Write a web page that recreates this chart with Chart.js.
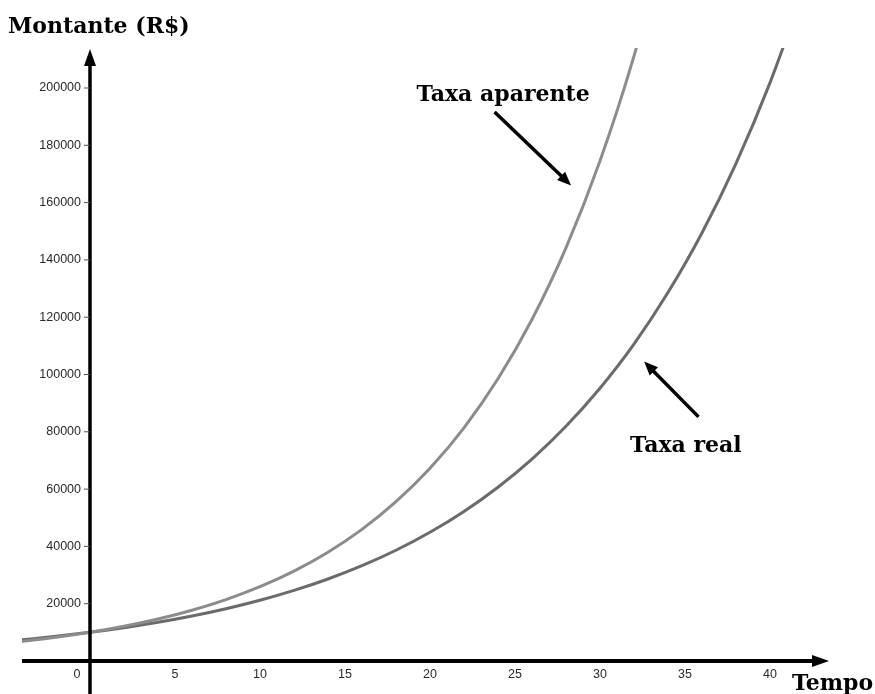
<!DOCTYPE html>
<html>
<head>
<meta charset="utf-8">
<script src="https://cdn.jsdelivr.net/npm/chart.js@4.4.0/dist/chart.umd.min.js"></script>
<style>
  body { margin: 0; background: #fff; }
  #wrap { width: 875px; height: 694px; }
</style>
</head>
<body>
<div id="wrap"><canvas id="chart" width="875" height="694"></canvas></div>
<script>
// tempo (anos) e montante
const tempo = [-4, -2, 0, 2, 4, 6, 8, 10, 12, 14, 16, 18, 20, 22, 24, 26, 28, 30, 32, 34, 36, 38, 40, 42];
const montanteAparente = [6830, 8260, 10000, 12100, 14640, 17720, 21440, 25940, 31380, 37980, 45950, 55600,
    67280, 81400, 98500, 119200, 144200, 174500, 211100, 255500, null, null, null, null];
const montanteReal = [7400, 8600, 10000, 11620, 13500, 15690, 18240, 21190, 24630, 28620, 33260, 38650,
    44920, 52200, 60660, 70490, 81920, 95200, 110600, 128600, 149400, 173600, 201800, 234500];

const yTicks = [20000, 40000, 60000, 80000, 100000, 120000, 140000, 160000, 180000, 200000];
const xTicks = [0, 5, 10, 15, 20, 25, 30, 35, 40];

const toPoints = (vals) => tempo.map((t, i) => ({ x: t, y: vals[i] })).filter(p => p.y !== null);

const serifBold = 'bold 22px "DejaVu Serif", serif';

function arrow(ctx, x1, y1, x2, y2, head) {
    const a = Math.atan2(y2 - y1, x2 - x1);
    ctx.beginPath();
    ctx.moveTo(x1, y1);
    ctx.lineTo(x2 - Math.cos(a) * head * 0.8, y2 - Math.sin(a) * head * 0.8);
    ctx.stroke();
    ctx.beginPath();
    ctx.moveTo(x2, y2);
    ctx.lineTo(x2 - head * Math.cos(a - 0.4), y2 - head * Math.sin(a - 0.4));
    ctx.lineTo(x2 - head * Math.cos(a + 0.4), y2 - head * Math.sin(a + 0.4));
    ctx.closePath();
    ctx.fill();
}

const axesPlugin = {
    id: 'eixos',
    afterDraw(chart) {
        const ctx = chart.ctx;
        const xs = chart.scales.x;
        const ys = chart.scales.y;
        const x0 = xs.getPixelForValue(0);
        const y0 = ys.getPixelForValue(0);
        ctx.save();
        ctx.strokeStyle = '#000';
        ctx.fillStyle = '#000';

        // eixo x
        ctx.lineWidth = 4;
        ctx.beginPath();
        ctx.moveTo(xs.getPixelForValue(-4), y0);
        ctx.lineTo(816, y0);
        ctx.stroke();
        ctx.beginPath();
        ctx.moveTo(829, y0);
        ctx.lineTo(812, y0 - 6);
        ctx.lineTo(812, y0 + 6);
        ctx.closePath();
        ctx.fill();

        // eixo y
        ctx.lineWidth = 3.5;
        ctx.beginPath();
        ctx.moveTo(x0, 694);
        ctx.lineTo(x0, 62);
        ctx.stroke();
        ctx.beginPath();
        ctx.moveTo(x0, 49);
        ctx.lineTo(x0 - 6, 66);
        ctx.lineTo(x0 + 6, 66);
        ctx.closePath();
        ctx.fill();

        // rotulos do eixo y
        ctx.font = '12.5px "Liberation Sans", Arial, sans-serif';
        ctx.fillStyle = '#2a2a2a';
        ctx.textAlign = 'right';
        ctx.textBaseline = 'middle';
        ctx.lineWidth = 1;
        ctx.strokeStyle = '#555';
        yTicks.forEach(v => {
            const py = ys.getPixelForValue(v);
            ctx.fillText(String(v), x0 - 9, py);
            ctx.beginPath();
            ctx.moveTo(x0 - 6, py);
            ctx.lineTo(x0, py);
            ctx.stroke();
        });

        // rotulos do eixo x
        ctx.textAlign = 'center';
        xTicks.forEach(v => {
            let px = xs.getPixelForValue(v);
            if (v === 0) px -= 13;
            ctx.fillText(String(v), px, y0 + 14);
        });

        // titulos
        ctx.fillStyle = '#000';
        ctx.font = serifBold;
        ctx.textAlign = 'left';
        ctx.textBaseline = 'alphabetic';
        ctx.fillText('Montante (R$)', 8, 33);
        ctx.fillText('Tempo', 792, 690);

        // anotacoes
        ctx.textAlign = 'center';
        ctx.fillText('Taxa aparente', xs.getPixelForValue(24.3), ys.getPixelForValue(195500));
        ctx.fillText('Taxa real', xs.getPixelForValue(35.05), ys.getPixelForValue(73000));

        ctx.strokeStyle = '#000';
        ctx.fillStyle = '#000';
        ctx.lineWidth = 3.5;
        arrow(ctx, xs.getPixelForValue(23.8), ys.getPixelForValue(191600),
            xs.getPixelForValue(28.3), ys.getPixelForValue(166000), 15);
        arrow(ctx, xs.getPixelForValue(35.8), ys.getPixelForValue(85200),
            xs.getPixelForValue(32.6), ys.getPixelForValue(104500), 15);
        ctx.restore();
    }
};

const chart = new Chart(document.getElementById('chart').getContext('2d'), {
    type: 'line',
    data: {
        datasets: [{
            label: 'Taxa aparente',
            data: toPoints(montanteAparente),
            borderColor: '#8c8c8c',
            borderWidth: 3,
            pointRadius: 0,
            cubicInterpolationMode: 'monotone',
            fill: false,
        }, {
            label: 'Taxa real',
            data: toPoints(montanteReal),
            borderColor: '#6b6b6b',
            borderWidth: 3,
            pointRadius: 0,
            cubicInterpolationMode: 'monotone',
            fill: false,
        }],
    },
    options: {
        responsive: false,
        animation: false,
        events: [],
        layout: { padding: { left: 22, top: 48, right: 0, bottom: 0 } },
        plugins: { legend: { display: false }, tooltip: { enabled: false } },
        scales: {
            x: { type: 'linear', display: false, min: -4, max: 46.18 },
            y: { type: 'linear', display: false, min: -11520, max: 213960 },
        },
    },
    plugins: [axesPlugin],
});
</script>
</body>
</html>
